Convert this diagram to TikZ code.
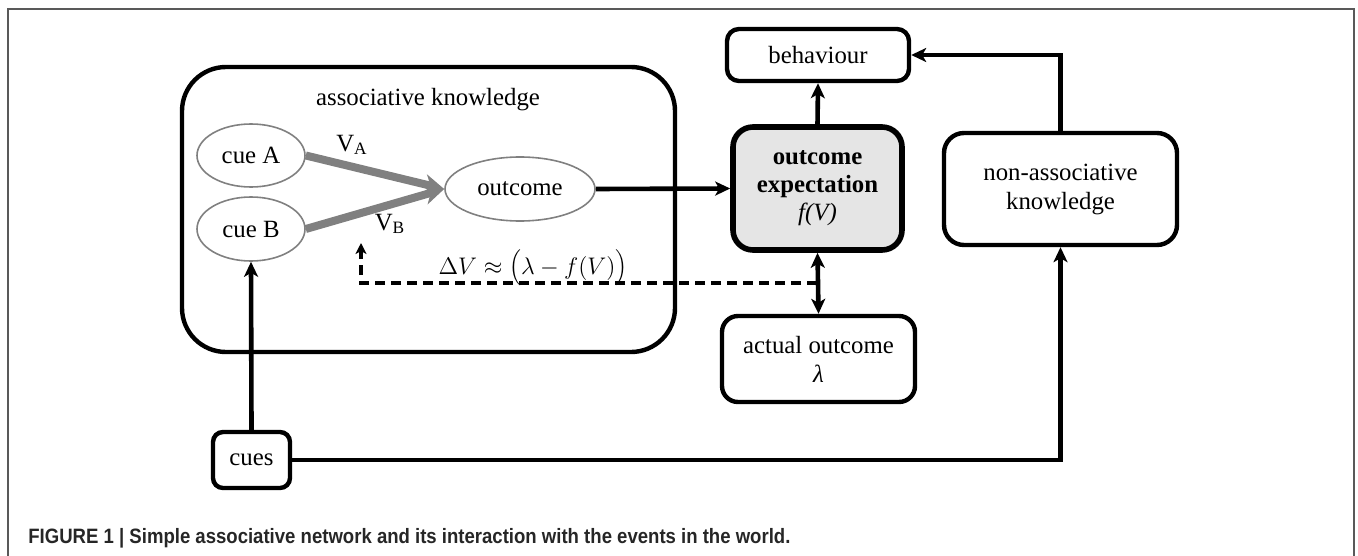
\documentclass[tikz,border=0pt]{standalone}
\usepackage{fontspec}
\usepackage{graphicx}
\setmainfont{Liberation Serif}
\newfontfamily\capfont{Liberation Sans}
\usetikzlibrary{shapes.geometric,arrows.meta}
\definecolor{framegray}{gray}{0.35}
\definecolor{arrowgray}{gray}{0.5}
\definecolor{boxfill}{gray}{0.9}
\tikzset{
  lbl/.style={font=\fontsize{12.4}{14.5}\selectfont},
  rbox/.style={draw, line width=2.2pt, rounded corners=#1, inner sep=0pt, align=center, lbl},
  rbox/.default=6pt,
  cueell/.style={ellipse, draw=arrowgray, line width=0.8pt, inner sep=0pt, lbl},
  conn/.style={line width=2.3pt, -{Stealth[length=7.5pt,width=7pt,inset=2pt]}},
  biconn/.style={line width=2.3pt, {Stealth[length=7.5pt,width=7pt,inset=2pt]}-{Stealth[length=7.5pt,width=7pt,inset=2pt]}},
  grayconn/.style={line width=4pt, draw=arrowgray, -{Stealth[length=10pt,width=10pt,inset=3pt]}},
  dashconn/.style={line width=1.6pt, dash pattern=on 5pt off 3pt, -{Stealth[length=5.5pt,width=5.5pt,inset=1.5pt]}},
}
\begin{document}
\begin{tikzpicture}[x=0.5pt,y=-0.5pt]
\useasboundingbox (0,0) rectangle (1358,556);
% frame
\draw[framegray, line width=0.8pt] (8,556) -- (8,9) -- (1354,9) -- (1354,556);
% associative knowledge container
\node[rbox=22pt, minimum width=246.5pt, minimum height=142.5pt] (assoc) at (428.5,209.5) {};
\node[lbl] (assoctitle) at (428,100) {associative knowledge};
% ellipses
\node[cueell, minimum width=54pt, minimum height=31.5pt] (cueA) at (251,155.5) {cue A};
\node[cueell, minimum width=54pt, minimum height=32pt] (cueB) at (251,229) {cue B};
\node[cueell, minimum width=75pt, minimum height=32pt] (outcome) at (520,189) {outcome};
% gray associations
\draw[grayconn] (cueA.east) -- (outcome.west);
\draw[grayconn] (cueB.east) -- (outcome.west);
\node[lbl] (VA) at (352,145) {V\textsubscript{A}};
\node[lbl] (VB) at (390,224) {V\textsubscript{B}};
% boxes
\node[rbox=6pt, minimum width=91pt, minimum height=26pt] (behav) at (818,55) {behaviour};
\node[rbox=10pt, line width=2.8pt, fill=boxfill, minimum width=84.5pt, minimum height=61.5pt] (expect) at (817.5,188.5)
  {\textbf{outcome}\\[-0.5pt]\textbf{expectation}\\[-0.5pt]\textit{f(V)}};
\node[rbox=8pt, minimum width=96.5pt, minimum height=43pt] (actual) at (818.5,359) {actual outcome\\\textit{λ}};
\node[rbox=10pt, minimum width=116.5pt, minimum height=56pt] (nonassoc) at (1060.5,189) {non-associative\\knowledge};
\node[rbox=5pt, minimum width=38.5pt, minimum height=28pt] (cues) at (251.5,460) {cues};
% connectors
\draw[conn] (outcome.east) -- (expect.west);
\draw[conn] (expect.north) -- (behav.south);
\draw[biconn] (expect.south) -- (actual.north);
\draw[conn] (nonassoc.north) |- (behav.east);
\draw[conn] (cues.east) -| (nonassoc.south);
\draw[conn] (cues.north) -- (cueB.south);
% dashed feedback
\coordinate (dstart) at (817,283);
\coordinate (dend) at (361,243);
\draw[dashconn] (dstart) -| (dend);
\node[font=\fontsize{13}{14}\selectfont] (formula) at (533,268) {$\Delta V \approx \Bigl(\lambda - f(V)\Bigr)$};
% caption
\node[anchor=west, inner sep=0pt, text=black!85] (caption) at (28,538)
  {\resizebox{381pt}{\height}{\capfont\bfseries\fontsize{10.4}{12}\selectfont FIGURE 1 | Simple associative network and its interaction with the events in the world.}};
\end{tikzpicture}
\end{document}
